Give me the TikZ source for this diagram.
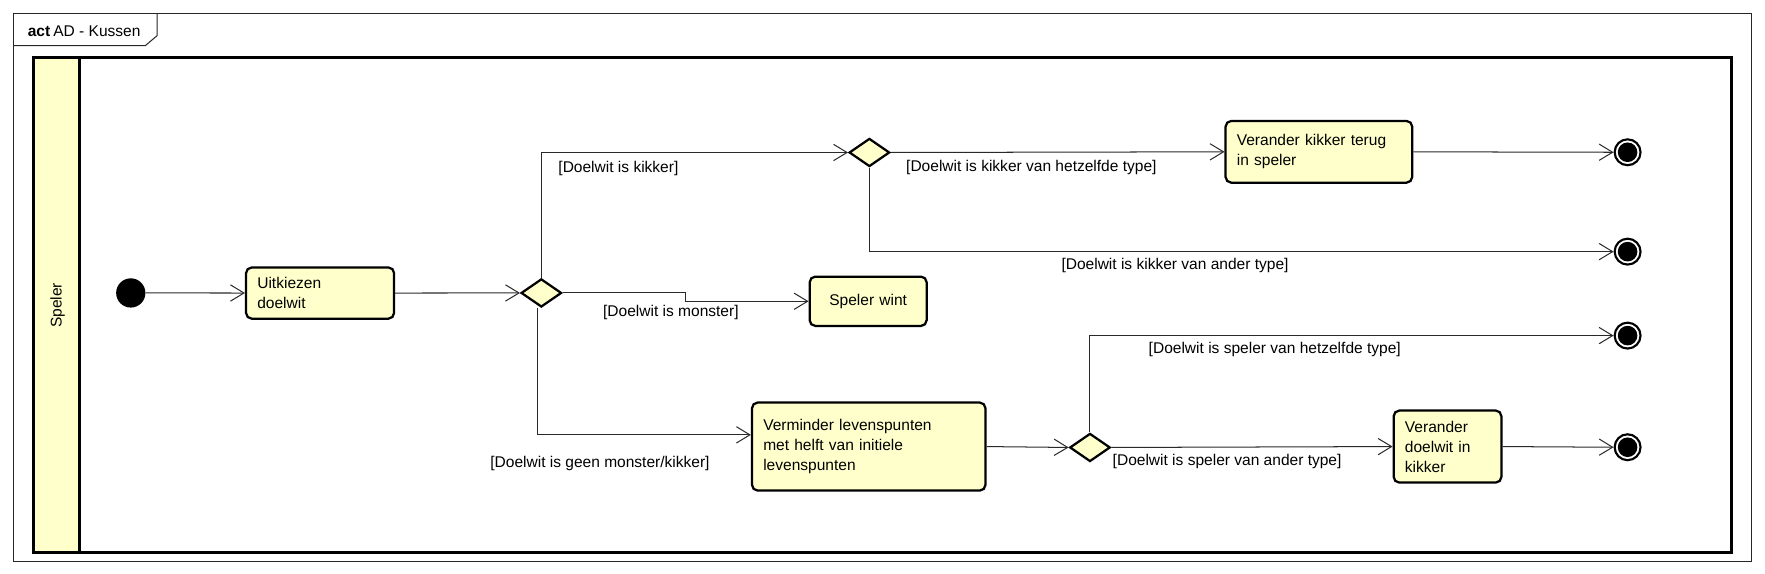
\documentclass[tikz,border=0pt]{standalone}
\usepackage{fontspec}
\setmainfont{Liberation Sans}
\usetikzlibrary{shapes.geometric,arrows.meta}
\definecolor{yfill}{HTML}{FFFFCC}
\definecolor{lcol}{HTML}{2A2A2A}
\newcommand\labfont{\fontsize{13.8}{17.7}\selectfont}
\tikzset{
  actbox/.style={draw=black, line width=2pt, fill=yfill, rounded corners=5pt, font=\labfont, align=left, inner xsep=10pt, inner ysep=0pt},
  decbox/.style={diamond, draw=black, line width=2pt, fill=yfill, inner sep=0pt, minimum width=36pt, minimum height=25pt},
  finnode/.style={circle, draw=black, line width=1.9pt, fill=white, minimum size=23pt, inner sep=0pt,
     path picture={\fill[black] (path picture bounding box.center) circle (8.7pt);}},
  initnode/.style={circle, fill=black, minimum size=26pt, inner sep=0pt},
  lbl/.style={font=\labfont, inner sep=0pt, anchor=west, text=black},
  flow/.style={draw=lcol, line width=0.9pt, -{Straight Barb[length=12pt, width=14.5pt, line width=0.9pt]}},
}
\begin{document}
\begin{tikzpicture}[x=1pt,y=-1pt]
\useasboundingbox (0,0) rectangle (1568.3,510);
% frame
\draw[draw=black!85, line width=0.9pt] (12,12) rectangle (1556.5,498.5);
\draw[draw=black!85, line width=0.9pt] (12,40.5) -- (129.2,40.5) -- (139.7,31.6) -- (139.7,12);
\node[font=\labfont, anchor=west, inner sep=0pt] (title) at (24.5,27.5) {\textbf{act}\hspace{2.7pt}AD - Kussen};
% lane
\fill[yfill] (29.9,51.5) rectangle (70.6,490.7);
\draw[line width=2.6pt] (29.9,51.5) rectangle (1538.5,490.7);
\draw[line width=2.6pt] (70.6,51.5) -- (70.6,490.7);
\node[font=\labfont, rotate=90, inner sep=0pt] (lane) at (51.2,271.3) {Speler};
% nodes
\node[initnode] (init) at (116.2,260.3) {};
\node[actbox, minimum width=131.5pt, minimum height=45.5pt, text width=111.5pt] (uit) at (284.4,260.4) {Uitkiezen\\doelwit};
\node[decbox] (d1) at (481,260.3) {};
\node[decbox] (d2) at (772.5,135.5) {};
\node[actbox, minimum width=165.8pt, minimum height=54.8pt, text width=145.8pt] (vk) at (1171.9,134.9) {Verander kikker terug\\in speler};
\node[actbox, align=center, minimum width=103.9pt, minimum height=43.8pt, text width=83.9pt] (sw) at (771.4,267.7) {Speler wint};
\node[actbox, minimum width=207.4pt, minimum height=78.2pt, text width=187.4pt] (vl) at (771.9,396.8) {Verminder levenspunten\\met helft van initiele\\levenspunten};
\node[decbox] (d3) at (968.5,397.6) {};
\node[actbox, minimum width=95.7pt, minimum height=64pt, text width=75.7pt] (vd) at (1286.2,396.8) {Verander\\doelwit in\\kikker};
\node[finnode] (f1) at (1446.2,135.3) {};
\node[finnode] (f2) at (1446.2,223.6) {};
\node[finnode] (f3) at (1446.2,298.2) {};
\node[finnode] (f4) at (1446.2,397.4) {};
% connectors
\draw[flow] (init) -- (uit);
\draw[flow] (uit) -- (d1);
\draw[flow] (d1.north) |- (d2.west);
\draw[flow] (d2.east) -- (vk.west);
\draw[flow] (vk.east) -- (f1.west);
\draw[flow] (d2.south) |- (f2.west);
\coordinate (m1) at (608.8,267.7);
\draw[flow] (d1.east) -| (m1) -- (sw.west);
\draw[flow] ([xshift=-3.5pt]d1.south) |- ([yshift=10.4pt]vl.west);
\draw[flow] (vl.east) -- (d3.west);
\draw[flow] (d3.north) |- (f3.west);
\draw[flow] (d3.east) -- (vd.west);
\draw[flow] (vd.east) -- (f4.west);
% labels
\node[lbl] (l1) at (496,149.5) {[Doelwit is kikker]};
\node[lbl] (l2) at (805,149) {[Doelwit is kikker van hetzelfde type]};
\node[lbl] (l3) at (943,236) {[Doelwit is kikker van ander type]};
\node[lbl] (l4) at (535.7,277.5) {[Doelwit is monster]};
\node[lbl] (l5) at (435.5,411.6) {[Doelwit is geen monster/kikker]};
\node[lbl] (l6) at (1020.5,310.3) {[Doelwit is speler van hetzelfde type]};
\node[lbl] (l7) at (988.5,410.1) {[Doelwit is speler van ander type]};
\end{tikzpicture}
\end{document}
